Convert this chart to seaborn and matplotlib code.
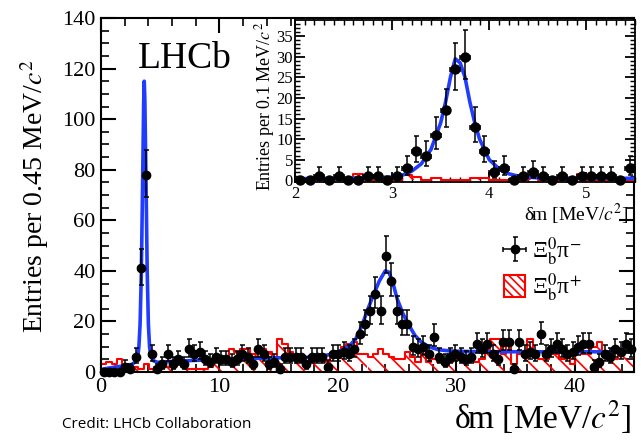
import numpy as np
import matplotlib
matplotlib.use('Agg')
import matplotlib.pyplot as plt
import seaborn as sns
from matplotlib.patches import Patch
from matplotlib.ticker import MultipleLocator

# main plot: 0.45 MeV/c2 bins from 0 to 45
bin_width = 0.45
n_bins = 100
rs_counts = [0, 0, 0, 0, 2, 1, 6, 41, 78, 7,
             1, 3, 7, 3, 5, 3, 9, 7, 8, 5,
             4, 6, 5, 5, 4, 5, 7, 6, 3, 9,
             7, 3, 4, 1, 6, 6, 6, 6, 3, 6,
             6, 6, 2, 7, 7, 8, 7, 9, 15, 19,
             24, 31, 24, 46, 36, 24, 19, 19, 10, 9,
             10, 7, 14, 6, 4, 6, 7, 6, 5, 6,
             11, 9, 11, 7, 5, 12, 12, 1, 12, 7,
             8, 7, 15, 7, 9, 11, 9, 7, 8, 10,
             11, 11, 2, 4, 7, 6, 9, 8, 11, 9]
ws_counts = [3, 4, 3, 5, 2, 3, 2, 1, 3, 1,
             2, 2, 2, 3, 3, 2, 1, 1, 1, 1,
             2, 4, 4, 5, 9, 8, 9, 9, 7, 7,
             9, 8, 6, 13, 11, 8, 6, 4, 4, 4,
             5, 5, 4, 6, 6, 10, 11, 12, 7, 7,
             6, 7, 9, 7, 6, 5, 5, 8, 6, 4,
             7, 4, 5, 4, 3, 4, 5, 5, 5, 5,
             4, 5, 9, 13, 13, 7, 13, 3, 7, 7,
             13, 7, 5, 5, 7, 7, 5, 7, 3, 9,
             7, 7, 10, 12, 7, 5, 5, 8, 12, 10]
fit_x = [0.2, 1.0, 2.0, 2.6, 2.9, 3.1, 3.2, 3.3, 3.4, 3.5, 3.6, 3.65, 3.7, 3.8,
         3.9, 4.0, 4.1, 4.2, 4.4, 4.8, 6, 8, 10, 13, 16, 18, 19.5, 20.5, 21.0,
         21.5, 22.0, 22.5, 23.0, 23.5, 24.0, 24.3, 24.6, 25.0, 25.5, 26.0, 26.5,
         27.0, 27.5, 28.0, 28.5, 29.5, 31, 35, 40, 45]
fit_y = [1.2, 1.8, 2.5, 3, 4, 6, 10, 19, 38, 70, 106, 115, 108, 76,
         40, 19, 10, 6.5, 4.5, 3.8, 4.2, 4.6, 5.0, 5.4, 5.7, 5.9, 7.0, 9.0, 10.5,
         13, 18, 24.5, 30.5, 36, 40, 39.5, 36, 29, 23, 18.5, 14.5,
         12, 10.5, 9.5, 8.8, 8.3, 8.1, 8, 8, 8]

# inset: 0.1 MeV/c2 bins from 2.0 to 5.5
inset_width = 0.1
inset_start = 2.0
inset_counts = [0, 0, 1, 0, 1, 0, 0, 1, 1, 0,
                1, 3, 7, 6, 11, 17, 27, 30, 13, 7,
                2, 3, 0, 1, 2, 1, 0, 1, 0, 1,
                1, 1, 1, 0, 3]
inset_ws = [0, 0, 0, 0, 0, 0, 1.6, 0, 0, 0,
            0, 1.2, 0.7, 0, 0.5, 0, 0, 0, 0.5, 0.5,
            0, 0, 0, 0, 1.0, 0, 0, 0, 0, 1.6,
            0, 0, 0, 0, 0]
inset_fit_x = [2.0, 2.5, 3.0, 3.1, 3.2, 3.3, 3.4, 3.5, 3.55, 3.6, 3.65, 3.7, 3.75,
               3.8, 3.85, 3.9, 4.0, 4.1, 4.2, 4.3, 4.5, 5.0, 5.5]
inset_fit_y = [0.4, 0.5, 0.8, 1.2, 2.2, 4, 7.5, 14, 19, 25, 29.5, 28.5, 25,
               19, 14, 10, 5, 2.8, 1.6, 1.0, 0.6, 0.5, 0.5]

sns.set_theme(style='ticks')
plt.rcParams['font.family'] = ['Liberation Serif', 'DejaVu Serif']
plt.rcParams['mathtext.fontset'] = 'stix'
plt.rcParams['hatch.color'] = 'red'
plt.rcParams['hatch.linewidth'] = 1.2
for k in ['axes.edgecolor', 'xtick.color', 'ytick.color', 'text.color', 'axes.labelcolor']:
    plt.rcParams[k] = 'black'

BLUE = '#1f3cff'
HATCH = '\\\\'


def poisson_err(counts):
    n = np.asarray(counts, float)
    lo = np.where(n > 0, np.sqrt(n), 0)
    hi = np.where(n > 0, np.sqrt(n + 0.75) + 1, 0)
    return [lo, hi]


def draw(ax, edges, counts, ws, fx, fy, ms):
    centers = (edges[:-1] + edges[1:]) / 2
    half = (edges[1] - edges[0]) / 2
    # hatched bars without edges, then the red step outline on top
    sns.histplot(x=list(centers), weights=list(ws), bins=list(edges), element='bars',
                 fill=True, color='red', facecolor='none', edgecolor='red',
                 linewidth=0, hatch=HATCH, ax=ax, zorder=1)
    sns.histplot(x=list(centers), weights=list(ws), bins=list(edges), element='step',
                 fill=False, color='red', linewidth=1.5, ax=ax, zorder=1.5)
    sns.lineplot(x=fx, y=fy, color=BLUE, lw=2.6, ax=ax, zorder=2)
    eb = ax.errorbar(centers, counts, yerr=poisson_err(counts), xerr=half, fmt='o',
                     color='black', ms=ms, capsize=1.8, elinewidth=1.1, capthick=1.1,
                     zorder=3, clip_on=False)
    return eb


def style(ax, lw, major, minor, size):
    ax.tick_params(which='both', direction='in', top=True, right=True,
                   labelsize=size, pad=4, labelfontfamily='Liberation Serif')
    ax.tick_params(which='major', length=major, width=lw)
    ax.tick_params(which='minor', length=minor, width=lw * 0.8)
    for sp in ax.spines.values():
        sp.set_linewidth(lw)
        sp.set_visible(True)


fig = plt.figure(figsize=(6.41, 4.41), dpi=100)

# main axes
ax = fig.add_axes([101 / 641, 1 - 372 / 441, 533 / 641, 354 / 441])
edges = np.arange(n_bins + 1) * bin_width
eb = draw(ax, edges, rs_counts, ws_counts, fit_x, fit_y, 6)
ax.set_xlim(0, 45)
ax.set_ylim(0, 140)
ax.xaxis.set_major_locator(MultipleLocator(10))
ax.xaxis.set_minor_locator(MultipleLocator(2))
ax.yaxis.set_major_locator(MultipleLocator(20))
ax.yaxis.set_minor_locator(MultipleLocator(5))
style(ax, 1.5, 11, 6, 16)
ax.set_ylabel('')
ax.set_xlabel(r'δm [MeV/$c^2$]', fontsize=24, loc='right')
ax.xaxis.set_label_coords(0.996, -0.075)
ax.text(3.12, 120.2, 'LHCb', fontsize=27, ha='left', va='baseline')

legend_handles = [eb, Patch(facecolor='white', edgecolor='red', hatch='\\\\\\\\', lw=1.5)]
ax.legend(legend_handles, ['Ξ$_{\\rm b}^{0}$π$^{-}$', 'Ξ$_{\\rm b}^{0}$π$^{+}$'],
          loc='upper left', bbox_to_anchor=(0.757, 0.385), frameon=False,
          fontsize=17, handlelength=0.85, handleheight=1.05, handletextpad=0.3,
          labelspacing=0.15, borderpad=0, borderaxespad=0)

fig.text(35 / 641, 1 - 60 / 441, r'Entries per 0.45 MeV/$c^2$', rotation=90,
         ha='center', va='top', fontsize=20)

# inset
axin = fig.add_axes([295 / 641, 1 - 182 / 441, 340 / 641, 162 / 441])
axin.set_facecolor('white')
in_edges = inset_start + np.arange(len(inset_counts) + 1) * inset_width
draw(axin, in_edges, inset_counts, inset_ws, inset_fit_x, inset_fit_y, 6.5)
axin.set_xlim(2.0, 5.5)
axin.set_ylim(-0.4, 38.9)
axin.xaxis.set_major_locator(MultipleLocator(1))
axin.xaxis.set_minor_locator(MultipleLocator(0.1))
axin.yaxis.set_major_locator(MultipleLocator(5))
axin.yaxis.set_minor_locator(MultipleLocator(1))
style(axin, 1.3, 7, 3.5, 12)
axin.tick_params(axis='y', pad=1.5)
axin.tick_params(axis='x', pad=3)
axin.set_ylabel('')
axin.set_xlabel(r'δm [MeV/$c^2$]', fontsize=14, loc='right')
axin.xaxis.set_label_coords(0.98, -0.12)
fig.text(265 / 641, 1 - 22 / 441, r'Entries per 0.1 MeV/$c^2$', rotation=90,
         ha='center', va='top', fontsize=13)

fig.text(62 / 641, 1 - 425 / 441, 'Credit: LHCb Collaboration', family='Open Sans',
         fontsize=11, ha='left', va='center')

fig.savefig('out.png', dpi=100, facecolor='white')
